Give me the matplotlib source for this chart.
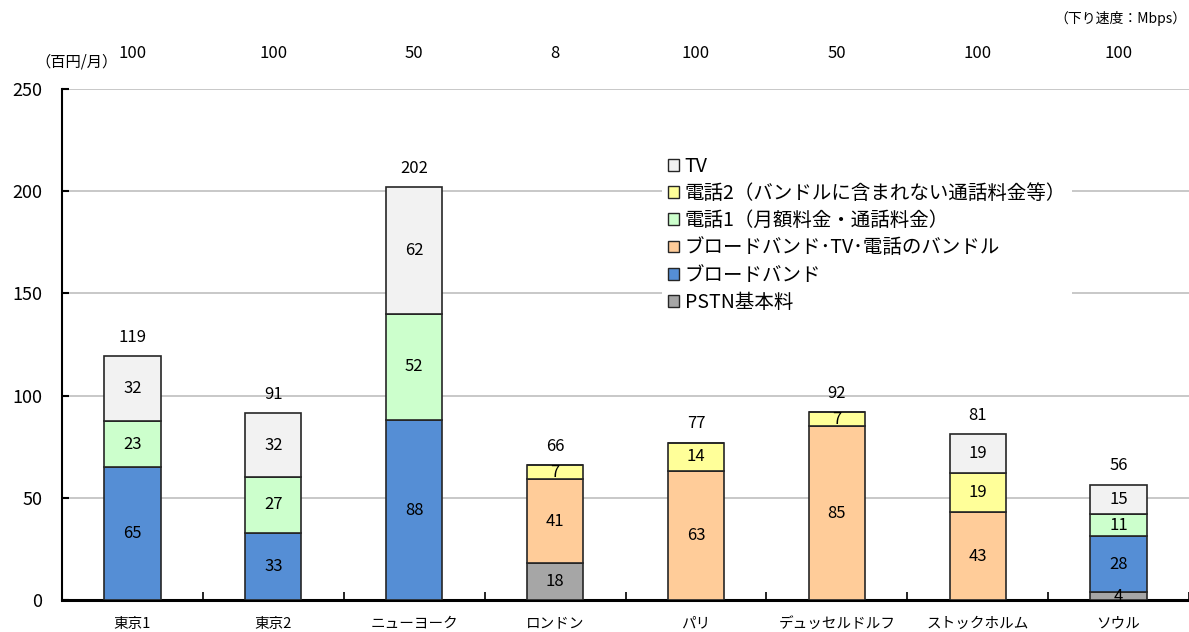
import matplotlib
matplotlib.use("Agg")
import matplotlib.pyplot as plt
from matplotlib.patches import Patch
import numpy as np

plt.rcParams['font.family'] = ['Noto Sans CJK JP', 'DejaVu Sans']

cities = ["東京1", "東京2", "ニューヨーク", "ロンドン", "パリ", "デュッセルドルフ", "ストックホルム", "ソウル"]
speeds = [100, 100, 50, 8, 100, 50, 100, 100]
totals = [119, 91, 202, 66, 77, 92, 81, 56]

pstn      = [0, 0, 0, 18, 0, 0, 0, 3.8]
broadband = [65, 33, 88, 0, 0, 0, 0, 27.5]
bundle    = [0, 0, 0, 41, 63, 85, 43, 0]
phone1    = [22.6, 27, 52, 0, 0, 0, 0, 10.6]
phone2    = [0, 0, 0, 7, 14, 7, 19, 0]
tv        = [31.6, 31.5, 62, 0, 0, 0, 19, 14.6]

series = [
    ("PSTN基本料", pstn, "#A6A6A6"),
    ("ブロードバンド", broadband, "#558ED5"),
    ("ブロードバンド･TV･電話のバンドル", bundle, "#FFCC99"),
    ("電話1（月額料金・通話料金）", phone1, "#CCFFCC"),
    ("電話2（バンドルに含まれない通話料金等）", phone2, "#FFFF99"),
    ("TV", tv, "#F2F2F2"),
]

fig = plt.figure(figsize=(11.89, 6.32), dpi=100)
ax = fig.add_axes([62/1189, 1-600/632, 1-62/1189, (600-89)/632])

x = np.arange(len(cities))
bottom = np.zeros(len(cities))
handles = []
for name, vals, col in series:
    vals = np.array(vals, dtype=float)
    ax.bar(x, vals, width=0.4, bottom=bottom, color=col, edgecolor="#262626",
           linewidth=1.2, zorder=3)
    for i, v in enumerate(vals):
        if v > 0:
            ax.text(x[i], bottom[i] + v/2, f"{round(v)}", ha="center", va="center",
                    fontsize=12, color="#000000", zorder=4)
    bottom += vals
    handles.append(Patch(facecolor=col, edgecolor="#262626", linewidth=1.0, label=name))

for i, t in enumerate(totals):
    ax.text(x[i], bottom[i] + 5, f"{t}", ha="center", va="bottom", fontsize=12, zorder=4)

for i, s in enumerate(speeds):
    ax.text(x[i], 1.07, f"{s}", transform=ax.get_xaxis_transform(), ha="center",
            va="center", fontsize=12)

ax.set_xlim(-0.5, len(cities) - 0.5)
ax.set_ylim(0, 250)
ax.set_yticks([0, 50, 100, 150, 200, 250])
ax.yaxis.grid(True, color="#BFBFBF", linewidth=1.2, zorder=0)
ax.set_axisbelow(True)
ax.tick_params(axis="y", direction="in", length=5, width=1.5, labelsize=13, pad=14)

ax.set_xticks(np.arange(len(cities) + 1) - 0.5, minor=True)
ax.set_xticks(x)
ax.set_xticklabels(cities, fontsize=10.5)
ax.tick_params(axis="x", which="major", length=0, pad=12)
ax.tick_params(axis="x", which="minor", direction="in", length=6, width=1.2)

for s in ["top", "right"]:
    ax.spines[s].set_visible(False)
ax.spines["left"].set_linewidth(1.5)
ax.spines["bottom"].set_linewidth(2.2)

leg = ax.legend(handles=handles[::-1], loc="upper left", bbox_to_anchor=(0.524, 0.9),
                frameon=True, fancybox=False, edgecolor="none", framealpha=1,
                fontsize=14, handlelength=0.55, handleheight=0.55, handletextpad=0.3,
                labelspacing=0.32, borderpad=0.3)
leg.set_zorder(5)

fig.text(35/1189, 1-62/632, "（百円/月）", fontsize=11, ha="left", va="center")
fig.text(1187/1189, 1-18/632, "（下り速度：Mbps）", fontsize=10, ha="right", va="center")

fig.savefig("out.png", dpi=100)
